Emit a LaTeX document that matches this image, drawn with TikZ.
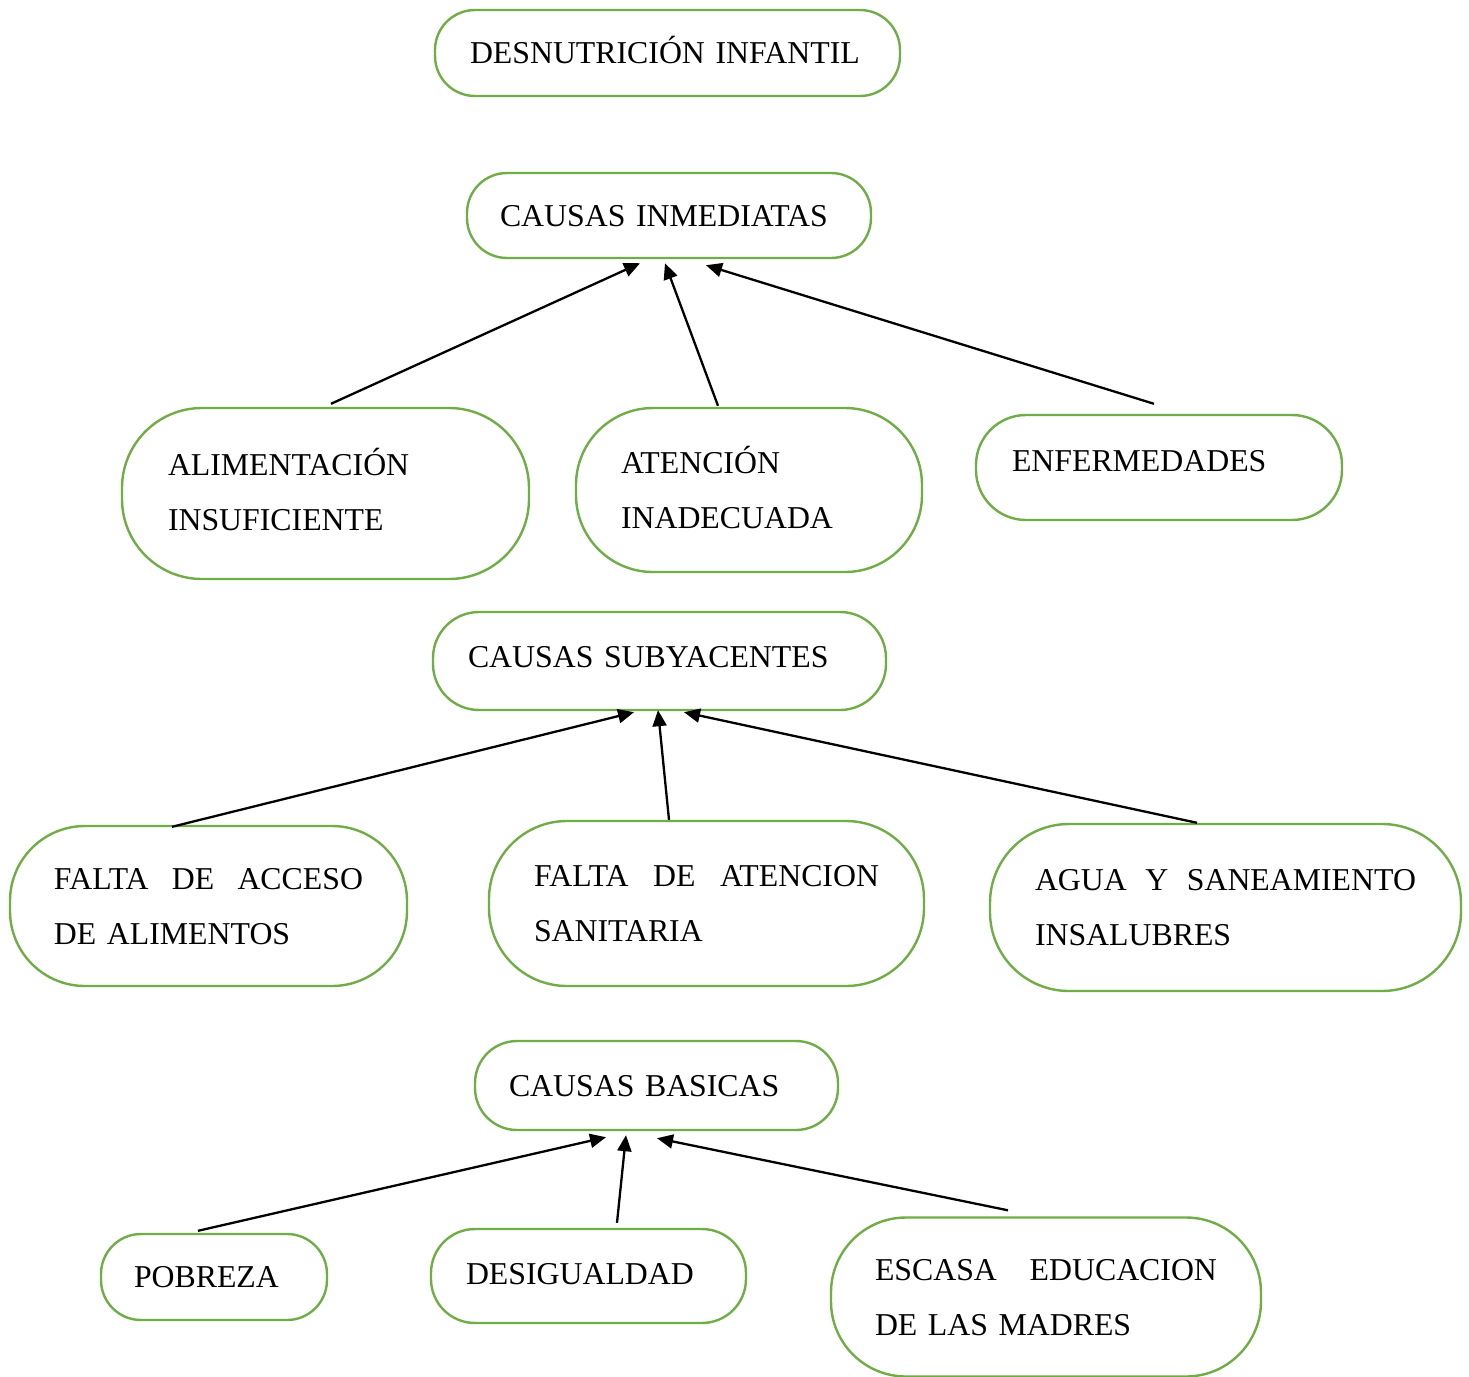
\documentclass[tikz,border=0pt]{standalone}
\usepackage{fontspec}
\setmainfont{Liberation Serif}
\usetikzlibrary{arrows.meta,calc}
\definecolor{boxgreen}{HTML}{70AD47}
\begin{document}
\begin{tikzpicture}[x=0.5pt,y=-0.5pt,
  box/.style={draw=boxgreen,line width=1.2pt,fill=white,align=left,inner sep=0pt,
    font=\fontsize{15.9}{27.5}\selectfont,text height=10.5pt,text depth=0pt},
  twolines/.style={text depth=27.5pt},
  arr/.style={line width=1.15pt,-{Triangle[length=8pt,width=7pt]}}]
\useasboundingbox (0,0) rectangle (1469,1377);

% title
\node[box,minimum width=232.5pt,minimum height=43pt,rounded corners=20pt,text width=197.5pt]
  (des) at (667.5,53) {DESNUTRICIÓN INFANTIL};

% immediate causes
\node[box,minimum width=202pt,minimum height=42.5pt,rounded corners=20pt,text width=169pt]
  (inm) at (669,215.5) {CAUSAS INMEDIATAS};
\node[box,twolines,text depth=29pt,minimum width=203.5pt,minimum height=85.5pt,rounded corners=40pt,text width=157.5pt]
  (ali) at (325.5,493.5) {ALIMENTACIÓN\\INSUFICIENTE};
\node[box,twolines,minimum width=173pt,minimum height=82pt,rounded corners=38.5pt,text width=128pt]
  (ate) at (749,490) {ATENCIÓN\\INADECUADA};
\node[box,text depth=6.5pt,minimum width=183pt,minimum height=52.5pt,rounded corners=25pt,text width=147pt]
  (enf) at (1159,467.5) {ENFERMEDADES};

% underlying causes
\node[box,text depth=4pt,minimum width=226.5pt,minimum height=49pt,rounded corners=23pt,text width=191.5pt]
  (sub) at (659.5,661) {CAUSAS SUBYACENTES};
\node[box,twolines,minimum width=198.5pt,minimum height=80pt,rounded corners=37.5pt,text width=154.5pt]
  (fal) at (208.5,906) {FALTA\hfill DE\hfill ACCESO\\DE ALIMENTOS};
\node[box,twolines,minimum width=217.5pt,minimum height=82.5pt,rounded corners=39pt,text width=172.5pt]
  (san) at (706.5,903.5) {FALTA\hfill DE\hfill ATENCION\\SANITARIA};
\node[box,twolines,minimum width=235.5pt,minimum height=83.5pt,rounded corners=39.5pt,text width=190.5pt]
  (agu) at (1225.5,907.5) {AGUA\hfill Y\hfill SANEAMIENTO\\INSALUBRES};

% basic causes
\node[box,minimum width=181.5pt,minimum height=44.5pt,rounded corners=21pt,text width=147.5pt]
  (bas) at (656.5,1085.5) {CAUSAS BASICAS};
\node[box,minimum width=113pt,minimum height=43pt,rounded corners=20pt,text width=80pt]
  (pob) at (214,1277) {POBREZA};
\node[box,text depth=2pt,minimum width=157.5pt,minimum height=47pt,rounded corners=22pt,text width=122.5pt]
  (dsg) at (588.5,1276) {DESIGUALDAD};
\node[box,twolines,minimum width=215pt,minimum height=79.5pt,rounded corners=37.5pt,text width=171pt]
  (esc) at (1046,1297) {ESCASA\hfill EDUCACION\\DE LAS MADRES};

% connectors
\draw[arr] ($(ali.north)+(5.5,-3)$) -- ($(inm.south)+(-29,4)$);
\draw[arr] ($(ate.north)+(-31,-1)$) -- ($(inm.south)+(-4,4)$);
\draw[arr] ($(enf.north)+(-5,-10)$) -- ($(inm.south)+(37,6)$);

\draw[arr] ($(fal.north)+(-36.5,2)$) -- ($(sub.south)+(-25.5,1)$);
\draw[arr] ($(san.north)+(-37.5,0)$) -- ($(sub.south)+(-1.5,-1)$);
\draw[arr] ($(agu.north)+(-28.5,0)$) -- ($(sub.south)+(24.5,1)$);

\draw[arr] ($(pob.north)+(-16,-2)$) -- ($(bas.south)+(-50.5,6)$);
\draw[arr] ($(dsg.north)+(28.5,-5)$) -- ($(bas.south)+(-30.5,4)$);
\draw[arr] ($(esc.north)+(-38,-6)$) -- ($(bas.south)+(0.5,7)$);
\end{tikzpicture}
\end{document}
